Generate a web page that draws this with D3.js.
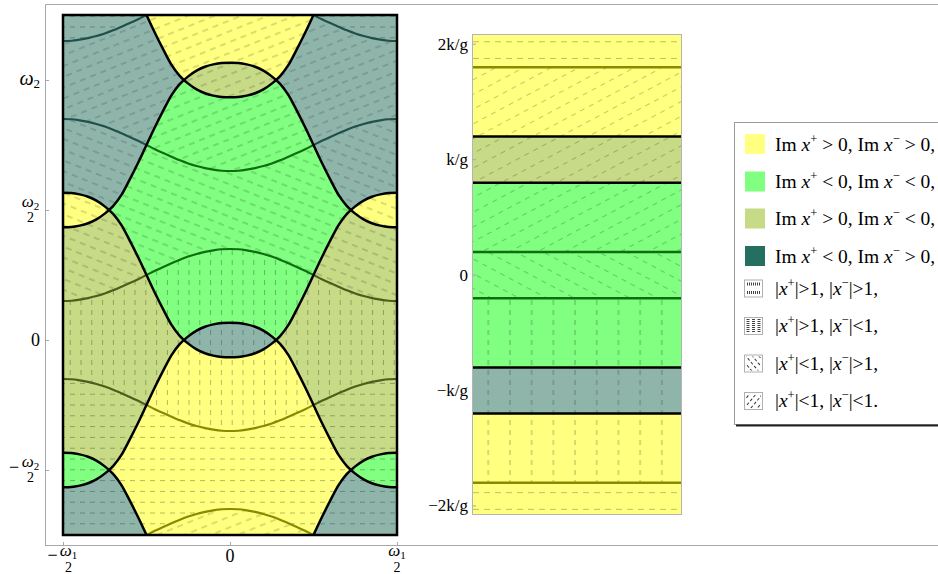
<!DOCTYPE html>
<html><head><meta charset="utf-8">
<script src="https://cdn.jsdelivr.net/npm/d3@7/dist/d3.min.js"></script>
<style>
body{margin:0;background:#fff}
svg{display:block}
text{font-family:"Liberation Serif","Times New Roman",serif;fill:#000}
</style></head><body>
<svg id="chart" width="938" height="574"></svg>
<script>
// ---------------- data ----------------
// horizontal coordinate (units of omega1) for the sampled curves
const uSamples=[-0.5,-0.475,-0.45,-0.425,-0.4,-0.375,-0.35,-0.325,-0.3,-0.275,-0.25,-0.225,-0.2,-0.175,-0.15,-0.125,-0.1,-0.075,-0.05,-0.025,0,
0.025,0.05,0.075,0.1,0.125,0.15,0.175,0.2,0.225,0.25,0.275,0.3,0.325,0.35,0.375,0.4,0.425,0.45,0.475,0.5];
// bump profile of the Im x = 0 curves (units of omega2)
const bumpH=[-0.066,-0.065,-0.060,-0.051,-0.036,-0.014,0.015,0.058,0.118,0.182,0.250,0.318,0.382,0.442,0.485,0.514,0.536,0.551,0.560,0.565,0.566,
0.565,0.560,0.551,0.536,0.514,0.485,0.442,0.382,0.318,0.250,0.182,0.118,0.058,0.015,-0.014,-0.036,-0.051,-0.060,-0.065,-0.066];
// wave profile of the |x| = 1 curves (units of omega2)
const waveK=[0.350,0.349,0.345,0.339,0.331,0.321,0.309,0.295,0.281,0.266,0.250,0.234,0.219,0.205,0.191,0.179,0.169,0.161,0.155,0.151,0.150,
0.151,0.155,0.161,0.169,0.179,0.191,0.205,0.219,0.234,0.250,0.266,0.281,0.295,0.309,0.321,0.331,0.339,0.345,0.349,0.350];
// offsets of the curve copies
const plusShifts=[-1.5,-0.5,0.5,1.5];        // v = s + h(u)
const minusShifts=[-1.5,-0.5,0.5,1.5,2.5];   // v = s - h(u)
const absShifts=[-1.5,-0.5,0.5,1.5];         // v = s -/+ k(u)
const hatchSeq=['Bk','Fw','H','V','Bk','Fw','H'];  // bands between |x|=1 curves, bottom-up

// right strip
const stripImEdges=[-1.2,-0.8,0.8,1.2];
const stripBandCats=['yellow','blue','green','olive','yellow'];
const stripAbsEdges=[-1.8,-0.2,0.2,1.8];
const stripAbsCats=['yellow','green','green','yellow'];
const stripHatch=['H','V','Bk','Fw','H'];
const stripDomain=[-2.07,2.08];

// ticks
const yTickValues=[-0.5,0,0.5,1];
const yTickLabels=[{sign:'−',sym:'ω',sub:'2',den:'2'},{text:'0'},{sym:'ω',sub:'2',den:'2'},{sym:'ω',sub:'2'}];
const xTickValues=[-0.5,0,0.5];
const xTickLabels=[{sign:'−',sym:'ω',sub:'1',den:'2'},{text:'0'},{sym:'ω',sub:'1',den:'2'}];
const stripTickValues=[-2,-1,0,1,2];
const stripTickLabels=['−2k/g','−k/g','0','k/g','2k/g'];

// legend
const legendColorCats=['yellow','green','olive','teal'];
const legendColorLabels=[['+','>','−','>'],['+','<','−','<'],['+','>','−','<'],['+','<','−','>']];
const legendHatchCats=['iconH','iconV','iconBk','iconFw'];
const legendHatchLabels=[['+','>','−','>'],['+','>','−','<'],['+','<','−','>'],['+','<','−','<']];
const legendHatchEnd=[',',',',',','.'];

// ---------------- style ----------------
const fillColor={yellow:'#ffff80',green:'#80ff80',olive:'#c7da86',blue:'#8fb5ab',teal:'#256f60'};
const darkColor={yellow:'#8a8a00',green:'#0f6e0f',olive:'#4f5d1c',blue:'#21504a'};
function cellCat(i,j){const pe=i%2===0, me=j%2===0;
  if(pe&&!me) return 'yellow'; if(!pe&&me) return 'green'; if(!pe&&!me) return 'olive'; return 'blue';}

const svg=d3.select('#chart');
const defs=svg.append('defs');

const xL=d3.scaleLinear().domain([-0.5,0.5]).range([63,397]);
const yL=d3.scaleLinear().domain([-0.75,1.25]).range([535,15]);
const xS=d3.scaleLinear().domain([0,1]).range([473,681]);
const yS=d3.scaleLinear().domain(stripDomain).range([514,35]);

// patterns
function mkPat(id,spacing,angle,dash,gap,op){
  const p=defs.append('pattern').attr('id',id).attr('patternUnits','userSpaceOnUse')
    .attr('width',dash+gap).attr('height',spacing).attr('patternTransform',`rotate(${angle})`);
  p.append('line').attr('x1',0).attr('x2',dash).attr('y1',spacing/2).attr('y2',spacing/2)
    .attr('stroke','#000').attr('stroke-opacity',op).attr('stroke-width',1);
}
mkPat('mH',10.8,0,5,5,0.28); mkPat('mV',10.8,90,5,5,0.28);
mkPat('mBk',10,22,6,5,0.28); mkPat('mFw',10,-22,6,5,0.28);
mkPat('sH',16.7,0,6,5,0.25); mkPat('sV',21.7,90,5,5,0.3);
mkPat('sBk',13,28,5,5,0.22); mkPat('sFw',13,-28,5,5,0.22);

// outer frame
const frame=svg.append('g').attr('stroke','#a8a8a8').attr('stroke-width',1);
frame.append('line').attr('x1',45.5).attr('x2',938).attr('y1',4.5).attr('y2',4.5);
frame.append('line').attr('x1',45.5).attr('x2',45.5).attr('y1',4.5).attr('y2',546);
frame.append('line').attr('x1',45.5).attr('x2',938).attr('y1',545.5).attr('y2',545.5);

// ---------------- left panel ----------------
defs.append('clipPath').attr('id','panelClip').append('rect')
  .attr('x',63).attr('y',15).attr('width',334).attr('height',520);
const curvePts=(s,sign,arr)=>uSamples.map((u,i)=>[u,s+sign*arr[i]]);
const lineGen=d3.line().x(d=>xL(d[0])).y(d=>yL(d[1])).curve(d3.curveMonotoneX);
function areaPath(lo,hi){
  return d3.area().x(d=>xL(d)).y0((d,i)=>yL(lo[i][1])).y1((d,i)=>yL(hi[i][1])).curve(d3.curveMonotoneX)(uSamples);
}
const plusCurves=plusShifts.map(s=>curvePts(s,1,bumpH));
const minusCurves=minusShifts.map(s=>curvePts(s,-1,bumpH));
const absCurves=[]; absShifts.forEach(s=>{absCurves.push(curvePts(s,-1,waveK)); absCurves.push(curvePts(s,1,waveK));});

for(let i=0;i<plusCurves.length-1;i++)
  defs.append('clipPath').attr('id','pb'+i).append('path').attr('d',areaPath(plusCurves[i],plusCurves[i+1]));
for(let j=0;j<minusCurves.length-1;j++)
  defs.append('clipPath').attr('id','mb'+j).append('path').attr('d',areaPath(minusCurves[j+1],minusCurves[j]));

const panel=svg.append('g').attr('clip-path','url(#panelClip)');
// colour fills
for(let i=0;i<plusCurves.length-1;i++){
  const g=panel.append('g').attr('clip-path',`url(#pb${i})`);
  for(let j=0;j<minusCurves.length-1;j++)
    g.append('path').attr('d',areaPath(minusCurves[j],minusCurves[j+1]))
      .attr('fill',fillColor[cellCat(i,j)]).attr('stroke',fillColor[cellCat(i,j)]).attr('stroke-width',0.6);
}
// hatching
for(let m=0;m<absCurves.length-1;m++)
  panel.append('path').attr('d',areaPath(absCurves[m],absCurves[m+1])).attr('fill',`url(#m${hatchSeq[m]})`);
// |x|=1 curves, coloured by the region they cross
for(let i=0;i<plusCurves.length-1;i++){
  const g=panel.append('g').attr('clip-path',`url(#pb${i})`);
  for(let j=0;j<minusCurves.length-1;j++){
    const gg=g.append('g').attr('clip-path',`url(#mb${j})`);
    absCurves.forEach(c=>gg.append('path').attr('d',lineGen(c)).attr('fill','none')
      .attr('stroke',darkColor[cellCat(i,j)]).attr('stroke-width',2.2));
  }
}
// Im x = 0 curves
plusCurves.concat(minusCurves).forEach(c=>panel.append('path').attr('d',lineGen(c))
  .attr('fill','none').attr('stroke','#000').attr('stroke-width',2.5));
svg.append('rect').attr('x',63).attr('y',15).attr('width',334).attr('height',520)
  .attr('fill','none').attr('stroke','#000').attr('stroke-width',2.5);

// ticks left panel
const tk=svg.append('g').attr('stroke','#a8a8a8').attr('stroke-width',1);
yTickValues.forEach(v=>tk.append('line').attr('x1',45.5).attr('x2',49).attr('y1',Math.round(yL(v))+0.5).attr('y2',Math.round(yL(v))+0.5));
xTickValues.forEach(v=>tk.append('line').attr('y1',545.5).attr('y2',542).attr('x1',Math.round(xL(v))+0.5).attr('x2',Math.round(xL(v))+0.5));

function fracLabel(cx,numBase,denBase,spec){
  const t=svg.append('text').attr('x',cx).attr('y',numBase).attr('text-anchor','middle');
  t.append('tspan').attr('font-style','italic').attr('font-size',17).text(spec.sym);
  t.append('tspan').attr('font-size',11).attr('dy',3).text(spec.sub);
  svg.append('text').attr('x',cx).attr('y',denBase).attr('text-anchor','middle').attr('font-size',14).text(spec.den);
}
yTickValues.forEach((v,i)=>{
  const y=yL(v), s=yTickLabels[i];
  if(s.text){svg.append('text').attr('x',40).attr('y',y+6).attr('text-anchor','end').attr('font-size',18).text(s.text);return;}
  if(s.den){ if(s.sign) svg.append('text').attr('x',14).attr('y',y+2.5).attr('text-anchor','middle').attr('font-size',18).text(s.sign);
    fracLabel(30.5,y-3,y+11.5,s); return;}
  const t=svg.append('text').attr('x',40).attr('y',y+5).attr('text-anchor','end');
  t.append('tspan').attr('font-style','italic').attr('font-size',20).text(s.sym);
  t.append('tspan').attr('font-size',13).attr('dy',3).text(s.sub);
});
xTickValues.forEach((v,i)=>{
  const x=xL(v), s=xTickLabels[i];
  if(s.text){svg.append('text').attr('x',x).attr('y',562).attr('text-anchor','middle').attr('font-size',18).text(s.text);return;}
  let cx=x;
  if(s.sign){cx=x+5.5; svg.append('text').attr('x',x-10.5).attr('y',560.5).attr('text-anchor','middle').attr('font-size',18).text(s.sign);}
  fracLabel(cx,555.5,571.5,s);
});

// ---------------- right strip ----------------
const strip=svg.append('g');
const stripLevels=[stripDomain[0]].concat(stripImEdges,[stripDomain[1]]);
stripBandCats.forEach((c,i)=>strip.append('rect').attr('x',xS(0)).attr('width',xS(1)-xS(0))
  .attr('y',yS(stripLevels[i+1])).attr('height',yS(stripLevels[i])-yS(stripLevels[i+1])).attr('fill',fillColor[c]));
const hatchLevels=[stripDomain[0]].concat(stripAbsEdges,[stripDomain[1]]);
stripHatch.forEach((h,i)=>strip.append('rect').attr('x',xS(0)).attr('width',xS(1)-xS(0))
  .attr('y',yS(hatchLevels[i+1])).attr('height',yS(hatchLevels[i])-yS(hatchLevels[i+1])).attr('fill',`url(#s${h})`));
stripAbsEdges.forEach((v,i)=>strip.append('line').attr('x1',xS(0)).attr('x2',xS(1)).attr('y1',yS(v)).attr('y2',yS(v))
  .attr('stroke',darkColor[stripAbsCats[i]]).attr('stroke-width',2.5));
stripImEdges.forEach(v=>strip.append('line').attr('x1',xS(0)).attr('x2',xS(1)).attr('y1',yS(v)).attr('y2',yS(v))
  .attr('stroke','#000').attr('stroke-width',2.5));
strip.append('rect').attr('x',xS(0)-0.5).attr('y',34.5).attr('width',xS(1)-xS(0)+1).attr('height',480)
  .attr('fill','none').attr('stroke','#b4b4b4').attr('stroke-width',1);
stripTickValues.forEach((v,i)=>{
  strip.append('line').attr('x1',472.5).attr('x2',476).attr('y1',yS(v)).attr('y2',yS(v)).attr('stroke','#a8a8a8');
  strip.append('text').attr('x',468).attr('y',yS(v)+5.5).attr('text-anchor','end').attr('font-size',17).text(stripTickLabels[i]);
});

// ---------------- legend ----------------
const lg=svg.append('g');
lg.append('rect').attr('x',734.5).attr('y',122.5).attr('width',220).attr('height',302).attr('fill','#fff').attr('stroke','#9a9a9a');
lg.append('line').attr('x1',736).attr('x2',938).attr('y1',425.5).attr('y2',425.5).attr('stroke','#222').attr('stroke-width',2);
const colorRowY=[144,181.5,218.5,256];
const hatchRowY=[288,325.5,363,400.5];
function legText(y,pieces){
  // pieces: [string, kind] kind: 'n' normal, 'i' italic, 's' superscript
  const t=lg.append('text').attr('x',775).attr('y',y+6.5).attr('font-size',19.5);
  let raised=false;
  pieces.forEach(([s,k])=>{
    const sp=t.append('tspan').text(s);
    if(k==='i') sp.attr('font-style','italic');
    if(k==='s'){sp.attr('font-size',12.5).attr('dy',-8); raised=true;}
    else if(raised){sp.attr('dy',8); raised=false;}
  });
}
legendColorCats.forEach((c,i)=>{
  lg.append('rect').attr('x',745).attr('y',colorRowY[i]-10).attr('width',20).attr('height',20).attr('fill',fillColor[c]);
  const p=legendColorLabels[i];
  legText(colorRowY[i],[['Im ','n'],['x','i'],[p[0],'s'],[` ${p[1]} 0, Im `,'n'],['x','i'],[p[2],'s'],[` ${p[3]} 0,`,'n']]);
});
// hatch icons
defs.append('pattern').attr('id','iconBk').attr('patternUnits','userSpaceOnUse').attr('width',5).attr('height',5)
  .attr('patternTransform','rotate(50)').append('line').attr('x1',0).attr('x2',3).attr('y1',2.5).attr('y2',2.5).attr('stroke','#333').attr('stroke-width',1);
defs.append('pattern').attr('id','iconFw').attr('patternUnits','userSpaceOnUse').attr('width',5).attr('height',5)
  .attr('patternTransform','rotate(-50)').append('line').attr('x1',0).attr('x2',3).attr('y1',2.5).attr('y2',2.5).attr('stroke','#333').attr('stroke-width',1);
legendHatchCats.forEach((c,i)=>{
  const y0=hatchRowY[i]-8.5, x0=744;
  const ic=lg.append('g');
  ic.append('rect').attr('x',x0+0.5).attr('y',y0+0.5).attr('width',18).attr('height',17).attr('fill','#fff').attr('stroke','#b0b0b0');
  if(c==='iconH'){
    [4.5,13].forEach(dy=>ic.append('line').attr('x1',x0+3).attr('x2',x0+16).attr('y1',y0+dy).attr('y2',y0+dy)
      .attr('stroke','#444').attr('stroke-width',3).attr('stroke-dasharray','1,1'));
  } else if(c==='iconV'){
    [4,9.5,15].forEach(dx=>ic.append('line').attr('y1',y0+2).attr('y2',y0+16).attr('x1',x0+dx).attr('x2',x0+dx)
      .attr('stroke','#444').attr('stroke-width',3).attr('stroke-dasharray','1,1'));
  } else {
    ic.append('rect').attr('x',x0+2).attr('y',y0+2).attr('width',15).attr('height',14).attr('fill',`url(#${c})`);
  }
  const p=legendHatchLabels[i];
  legText(hatchRowY[i],[['|','n'],['x','i'],[p[0],'s'],[`|${p[1]}1, |`,'n'],['x','i'],[p[2],'s'],[`|${p[3]}1${legendHatchEnd[i]}`,'n']]);
});
</script>
</body></html>
